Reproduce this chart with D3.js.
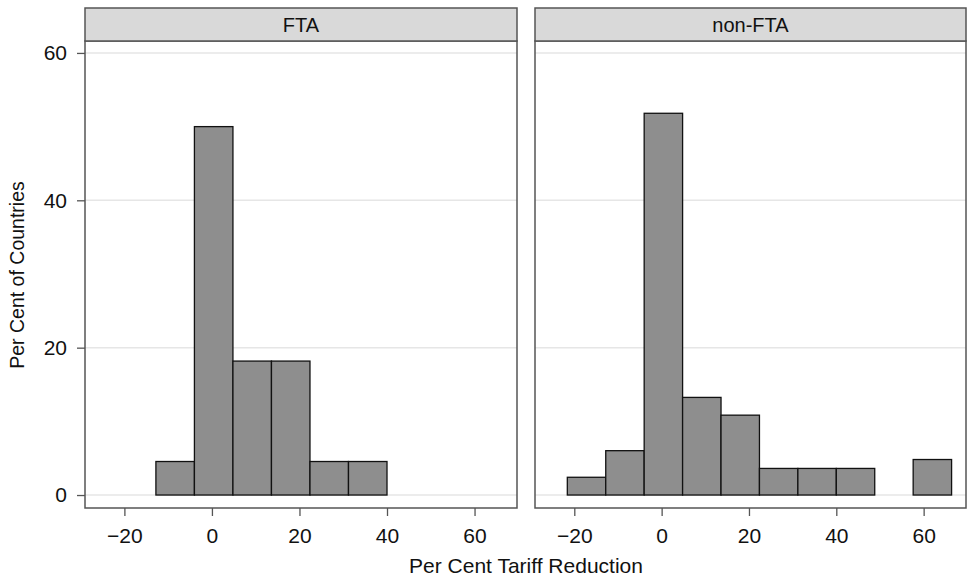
<!DOCTYPE html>
<html><head><meta charset="utf-8">
<script src="https://cdn.jsdelivr.net/npm/d3@7"></script>
<style>body{margin:0;background:#fff;} svg{display:block;font-family:"Liberation Sans",Arial,Helvetica,sans-serif;}</style>
</head><body>
<script>
// Data
const panels = ["FTA", "non-FTA"];
const binStart = -21.6;
const binWidth = 8.8;
// percent of countries per bin (bin i covers binStart + i*binWidth .. +binWidth)
const ftaValues = [0, 4.55, 50.0, 18.18, 18.18, 4.55, 4.55, 0, 0, 0];
const nonFtaValues = [2.41, 6.02, 51.81, 13.25, 10.84, 3.61, 3.61, 3.61, 0, 4.82];
const xTicks = [-20, 0, 20, 40, 60];
const yTicks = [0, 20, 40, 60];
const xTitle = "Per Cent Tariff Reduction";
const yTitle = "Per Cent of Countries";

const W = 967, H = 577;
const svg = d3.select("body").append("svg").attr("width", W).attr("height", H);

const panelX = [[85, 517], [535, 966]];
const stripTop = 8, stripBottom = 41, plotBottom = 508;
const y = d3.scaleLinear().domain([-1.76, 61.62]).range([plotBottom, stripBottom]);
const seriesList = [ftaValues, nonFtaValues];
const FONT = "'Liberation Sans',Arial,sans-serif";

panels.forEach((name, pi) => {
  const [x0, x1] = panelX[pi];
  const x = d3.scaleLinear().domain([-29.0, 69.7]).range([x0, x1]);
  const g = svg.append("g");
  // gridlines
  g.selectAll("line.grid").data(yTicks).join("line")
    .attr("x1", x0).attr("x2", x1)
    .attr("y1", d => y(d)).attr("y2", d => y(d))
    .attr("stroke", "#e6e6e6").attr("stroke-width", 1.5);
  // bars
  const vals = seriesList[pi];
  const bars = vals.map((v, i) => ({lo: binStart + i * binWidth, hi: binStart + (i + 1) * binWidth, v}))
    .filter(d => d.v > 0);
  g.selectAll("rect.bar").data(bars).join("rect")
    .attr("x", d => x(d.lo)).attr("width", d => x(d.hi) - x(d.lo))
    .attr("y", d => y(d.v)).attr("height", d => y(0) - y(d.v))
    .attr("fill", "#8e8e8e").attr("stroke", "#111").attr("stroke-width", 1.3);
  // frame
  g.append("rect").attr("x", x0).attr("y", stripBottom).attr("width", x1 - x0).attr("height", plotBottom - stripBottom)
    .attr("fill", "none").attr("stroke", "#555").attr("stroke-width", 1.5);
  // strip
  g.append("rect").attr("x", x0).attr("y", stripTop).attr("width", x1 - x0).attr("height", stripBottom - stripTop)
    .attr("fill", "#d9d9d9").attr("stroke", "#555").attr("stroke-width", 1.5);
  g.append("text").attr("x", (x0 + x1) / 2).attr("y", 31.5).attr("text-anchor", "middle")
    .attr("font-size", 20).attr("fill", "#111").text(name);
  // x axis
  const xa = svg.append("g").attr("transform", `translate(0,${plotBottom})`)
    .call(d3.axisBottom(x).tickValues(xTicks).tickSize(8).tickPadding(12).tickFormat(d => d < 0 ? "\u2212" + Math.abs(d) : d));
  xa.select(".domain").remove();
  xa.selectAll("line").attr("stroke", "#555").attr("stroke-width", 1.3);
  xa.selectAll("text").attr("font-size", 21).attr("fill", "#111").attr("font-family", FONT);
  if (pi === 0) {
    const ya = svg.append("g").attr("transform", `translate(${x0},0)`)
      .call(d3.axisLeft(y).tickValues(yTicks).tickSize(8).tickPadding(10));
    ya.select(".domain").remove();
    ya.selectAll("line").attr("stroke", "#555").attr("stroke-width", 1.3);
    ya.selectAll("text").attr("font-size", 21).attr("fill", "#111").attr("font-family", FONT);
  }
});

svg.append("text").attr("x", 526).attr("y", 573).attr("text-anchor", "middle")
  .attr("font-size", 21).attr("fill", "#111").text(xTitle);
svg.append("text").attr("transform", "translate(24,275) rotate(-90)").attr("text-anchor", "middle")
  .attr("font-size", 19.5).attr("fill", "#111").text(yTitle);
</script>
</body></html>
